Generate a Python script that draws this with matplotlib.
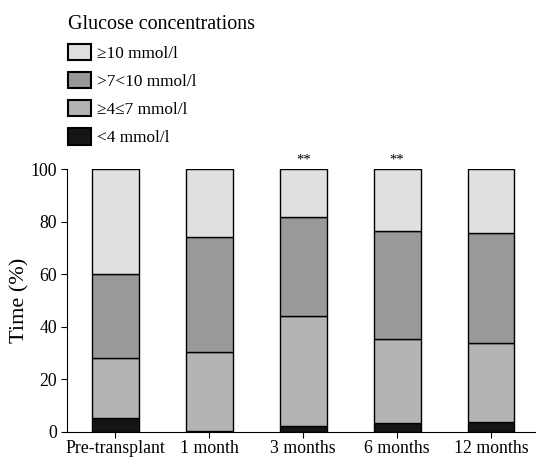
import numpy as np
import matplotlib
matplotlib.use("Agg")
import matplotlib.pyplot as plt
from matplotlib.patches import Patch

plt.rcParams['font.family'] = ['Liberation Serif', 'DejaVu Serif']

timepoints = ["Pre-transplant", "1 month", "3 months", "6 months", "12 months"]
# percent of time in each glucose band (bottom to top)
low = [5.3, 0.5, 2.3, 3.3, 3.7]          # <4 mmol/l
target = [22.8, 30.0, 42.0, 32.2, 30.0]  # >=4<=7 mmol/l
high = [31.9, 43.6, 37.5, 41.0, 41.9]    # >7<10 mmol/l
very_high = [40.0, 25.9, 18.2, 23.5, 24.4]  # >=10 mmol/l
signif = ["", "", "**", "**", ""]

colors = {"low": "#151515", "target": "#b4b4b4", "high": "#999999", "very_high": "#e0e0e0"}

fig = plt.figure(figsize=(5.36, 4.59), dpi=100)
ax = fig.add_axes([0.125, 0.059, 0.875, 0.572])

x = np.arange(len(timepoints))
w = 0.5
bottom = np.zeros(len(x))
for vals, key in [(low, "low"), (target, "target"), (high, "high"), (very_high, "very_high")]:
    ax.bar(x, vals, w, bottom=bottom, color=colors[key], edgecolor="black", linewidth=1.0)
    bottom += np.array(vals)

for xi, s in zip(x, signif):
    if s:
        ax.text(xi, 101, s, ha="center", va="bottom", fontsize=10.5)

ax.set_xlim(-0.516, 4.479)
ax.set_ylim(0, 100)
ax.set_yticks(range(0, 101, 20))
ax.set_xticks(x)
ax.set_xticklabels(timepoints, fontsize=12.8)
ax.tick_params(axis="y", labelsize=12.8, direction="out", length=4, pad=3)
ax.tick_params(axis="x", direction="out", length=4, pad=1.5)
ax.set_ylabel("Time (%)", fontsize=16, labelpad=1)
for sp in ["top", "right"]:
    ax.spines[sp].set_visible(False)

handles = [
    Patch(facecolor=colors["very_high"], edgecolor="black", linewidth=1.5, label="≥10 mmol/l"),
    Patch(facecolor=colors["high"], edgecolor="black", linewidth=1.5, label=">7<10 mmol/l"),
    Patch(facecolor=colors["target"], edgecolor="black", linewidth=1.5, label="≥4≤7 mmol/l"),
    Patch(facecolor=colors["low"], edgecolor="black", linewidth=1.5, label="<4 mmol/l"),
]
fig.legend(handles=handles, title="Glucose concentrations", loc="upper left",
           bbox_to_anchor=(0.126, 0.968), frameon=False, fontsize=12.4,
           title_fontsize=14.4, alignment="left", handlelength=1.35, handleheight=1.1,
           handletextpad=0.35, labelspacing=0.58, borderpad=0, borderaxespad=0)

fig.savefig("out.png", dpi=100)
